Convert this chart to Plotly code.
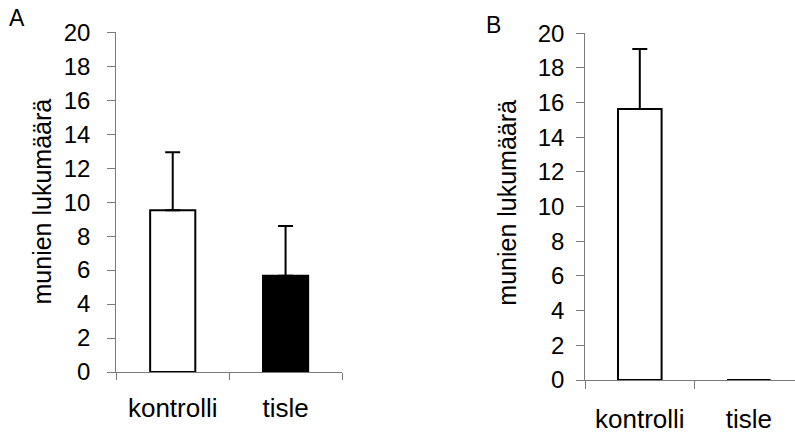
import plotly.graph_objects as go

categories = ["kontrolli", "tisle"]
values_A = [9.53, 5.66]
errors_A = [3.41, 2.93]
values_B = [15.63, 0.0]
errors_B = [3.47, 0.0]
bar_colors = ["white", "black"]
y_ticks = [0, 2, 4, 6, 8, 10, 12, 14, 16, 18, 20]
y_title = "munien lukumäärä"
panel_labels = ["A", "B"]

W, H = 795, 434
FONT = "Arial, 'Liberation Sans', sans-serif"
AXC = "#7a7a7a"

def px_x(p):
    return p / W

def px_y(p):
    return (H - p) / H

fig = go.Figure()

fig.add_trace(go.Bar(
    x=categories, y=values_A, xaxis="x", yaxis="y",
    marker=dict(color=bar_colors, line=dict(color="black", width=2)),
    error_y=dict(type="data", array=errors_A, arrayminus=[0, 0], symmetric=False,
                 color="black", thickness=2, width=7.5),
    showlegend=False, hoverinfo="skip",
))
fig.add_trace(go.Bar(
    x=categories, y=values_B, xaxis="x2", yaxis="y2",
    marker=dict(color=bar_colors, line=dict(color="black", width=2)),
    error_y=dict(type="data", array=errors_B, arrayminus=[0, 0], symmetric=False,
                 color="black", thickness=2, width=7.5),
    showlegend=False, hoverinfo="skip",
))

common_x = dict(type="category", showline=True, linecolor=AXC, linewidth=1.3,
                ticks="outside", tickson="boundaries", tickcolor=AXC, tickwidth=1.3,
                showgrid=False, zeroline=False, automargin=False,
                tickfont=dict(family=FONT, size=26, color="black"))
common_y = dict(showline=True, linecolor=AXC, linewidth=1.3, range=[0, 20],
                tickvals=y_ticks, ticks="outside", ticklen=8, tickcolor=AXC, tickwidth=1.3,
                showgrid=False, zeroline=False, automargin=False,
                tickfont=dict(family=FONT, size=24, color="black"))

x1_dom = [px_x(116.3), px_x(342)]
x2_dom = [px_x(585.3), 1.0]
cat_w_B = 109.0
rng_B = [-0.5, -0.5 + (795 - 585.3) / cat_w_B]

fig.update_layout(
    width=W, height=H,
    margin=dict(l=0, r=0, t=0, b=0),
    paper_bgcolor="white", plot_bgcolor="white",
    bargap=0.6,
    xaxis=dict(common_x, domain=x1_dom, anchor="y", range=[-0.5, 1.5], ticklen=7,
               ticklabelstandoff=13),
    yaxis=dict(common_y, domain=[px_y(372), px_y(32.3)], anchor="x", ticklabelstandoff=12),
    xaxis2=dict(common_x, domain=x2_dom, anchor="y2", range=rng_B, ticklen=8,
                ticklabelstandoff=16),
    yaxis2=dict(common_y, domain=[px_y(380), px_y(33.3)], anchor="x2", ticklabelstandoff=7),
    annotations=[
        dict(text=y_title, x=px_x(41.5), y=px_y(202), xref="paper", yref="paper",
             textangle=-90, showarrow=False, xanchor="center", yanchor="middle",
             font=dict(family=FONT, size=25, color="black")),
        dict(text=y_title, x=px_x(506.7), y=px_y(203), xref="paper", yref="paper",
             textangle=-90, showarrow=False, xanchor="center", yanchor="middle",
             font=dict(family=FONT, size=25, color="black")),
        dict(text=panel_labels[0], x=px_x(16.5), y=px_y(18), xref="paper", yref="paper",
             showarrow=False, xanchor="center", yanchor="middle",
             font=dict(family=FONT, size=23, color="black")),
        dict(text=panel_labels[1], x=px_x(493), y=px_y(25), xref="paper", yref="paper",
             showarrow=False, xanchor="center", yanchor="middle",
             font=dict(family=FONT, size=23, color="black")),
    ],
)

fig.write_html("out.html", config={"displayModeBar": False},
               post_script="document.body.style.margin='0';document.body.style.overflow='hidden';")
